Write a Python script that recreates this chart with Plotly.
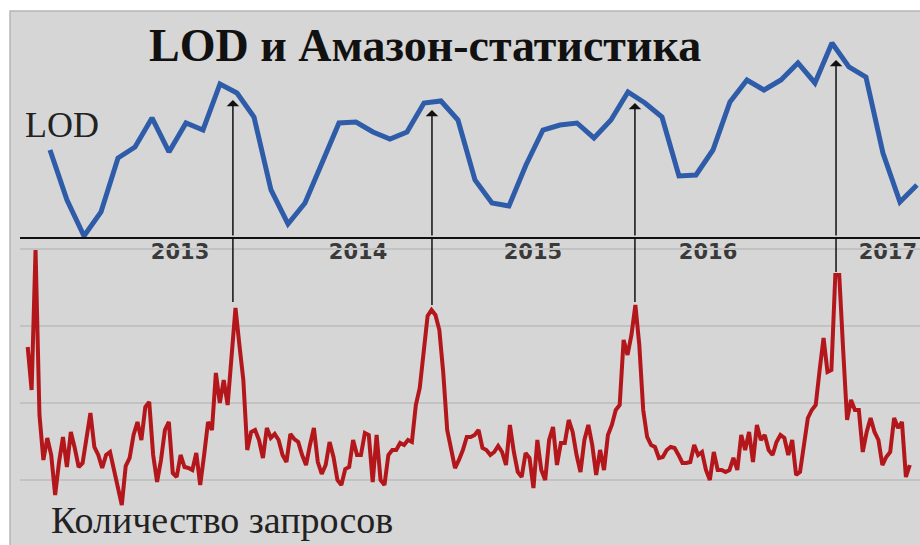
import plotly.graph_objects as go

# ---------------- data ----------------
# LOD (monthly, arbitrary units)
lod_values = [8.7, 3.7, 0.1, 2.5, 7.9, 9.0, 11.9, 8.5, 11.4, 10.7, 15.3, 14.4, 12.0,
              4.7, 1.3, 3.4, 7.4, 11.4, 11.5, 10.5, 9.8, 10.5, 13.4, 13.6, 11.7, 5.7,
              3.4, 3.1, 7.2, 10.7, 11.2, 11.4, 9.9, 11.7, 14.5, 13.4, 12.0, 6.1, 6.2,
              8.7, 13.5, 15.7, 14.7, 15.7, 17.4, 15.4, 19.4, 17.0, 16.0, 8.4, 3.5, 5.2]
lod_months = list(range(len(lod_values)))

# Amazon search volume (weekly, arbitrary units)
queries = [210, 167, 307, 142, 97, 119, 102, 62, 95, 120, 90, 125, 109, 90, 94, 122,
           144, 110, 102, 89, 102, 105, 87, 67, 52, 91, 99, 122, 135, 117, 150, 155,
           102, 75, 97, 127, 135, 84, 80, 102, 90, 89, 87, 104, 72, 102, 135, 127,
           184, 154, 177, 152, 207, 249, 212, 177, 107, 125, 127, 117, 99, 129, 119, 123,
           117, 102, 95, 123, 118, 115, 102, 92, 112, 129, 95, 83, 92, 115, 100, 77,
           72, 88, 90, 117, 102, 102, 124, 122, 75, 122, 77, 72, 102, 107, 107, 114,
           112, 117, 115, 152, 169, 205, 241, 247, 242, 227, 184, 127, 107, 89, 97, 107,
           120, 120, 122, 127, 109, 107, 102, 105, 111, 105, 92, 132, 105, 85, 80, 104,
           99, 69, 117, 87, 77, 117, 130, 92, 114, 114, 137, 125, 102, 85, 117, 132,
           112, 82, 107, 87, 122, 132, 147, 152, 217, 202, 222, 252, 212, 147, 120, 112,
           110, 99, 100, 107, 110, 109, 102, 94, 94, 95, 112, 102, 105, 87, 77, 105,
           87, 87, 85, 87, 99, 87, 122, 107, 125, 95, 132, 117, 122, 107, 102, 115,
           122, 119, 102, 117, 82, 85, 112, 139, 147, 152, 187, 219, 185, 187, 282, 282,
           207, 137, 157, 147, 147, 105, 125, 139, 125, 117, 92, 100, 105, 139, 129, 135,
           80, 92]
query_weeks = list(range(len(queries)))

# year labels (positions on the monthly axis)
year_labels = ["2013", "2014", "2015", "2016", "2017"]
year_pos = [7.65, 18.12, 28.41, 38.71, 49.29]

# arrows linking query peaks to LOD peaks
arrow_month = [10.76, 22.47, 34.41, 46.24]
arrow_lod = [13.7, 12.7, 13.4, 17.7]
arrow_query = [255, 252, 255, 285]

# ---------------- figure ----------------
fig = go.Figure()

fig.add_trace(go.Scatter(x=lod_months, y=lod_values, mode="lines",
                         line=dict(color="#2f5ca8", width=5),
                         xaxis="x", yaxis="y", showlegend=False))
fig.add_trace(go.Scatter(x=query_weeks, y=queries, mode="lines",
                         line=dict(color="#b3171b", width=4),
                         xaxis="x2", yaxis="y2", showlegend=False))

shapes = [dict(type="rect", xref="paper", yref="paper", x0=-0.0111, x1=1.02,
               y0=-0.02, y1=1.0019, fillcolor="#d6d6d6",
               line=dict(color="#b5b5b5", width=1.5), layer="below")]
annotations = []
for m, lv, qv in zip(arrow_month, arrow_lod, arrow_query):
    shapes.append(dict(type="line", xref="x", yref="y2", x0=m, x1=m, y0=qv, y1=320,
                       line=dict(color="#111111", width=1.5)))
    annotations.append(dict(xref="x", yref="y", axref="x", ayref="y",
                            x=m, y=lv, ax=m, ay=0, text="", showarrow=True,
                            arrowhead=1, arrowsize=1.4, arrowwidth=1.5,
                            arrowcolor="#111111", standoff=0))

annotations.append(dict(xref="paper", yref="paper", x=0.45, y=0.938,
                        xanchor="center", yanchor="middle",
                        text="<b>LOD и Амазон-статистика</b>", showarrow=False,
                        font=dict(family="Liberation Serif", size=46, color="#111111")))
annotations.append(dict(xref="paper", yref="paper", x=0.0467, y=0.788,
                        xanchor="center", yanchor="middle",
                        text="LOD", showarrow=False,
                        font=dict(family="Liberation Serif", size=36, color="#222222")))
annotations.append(dict(xref="paper", yref="paper", x=0.2244, y=0.047,
                        xanchor="center", yanchor="middle",
                        text="Количество запросов", showarrow=False,
                        font=dict(family="Liberation Serif", size=38, color="#222222")))

fig.update_layout(
    width=920, height=545,
    margin=dict(l=20, r=0, t=12, b=0),
    paper_bgcolor="white", plot_bgcolor="rgba(0,0,0,0)",
    xaxis=dict(domain=[0, 1], range=[-1.765, 51.18], anchor="y",
               showline=True, linecolor="#111111", linewidth=1.5,
               showgrid=False, zeroline=False, ticks="",
               tickvals=year_pos, ticktext=year_labels, ticklabelstandoff=-5,
               tickfont=dict(family="DejaVu Sans", size=21, color="#3a3a3a", weight="bold")),
    yaxis=dict(domain=[0.5779, 1], range=[0, 22.5], visible=False),
    xaxis2=dict(domain=[0, 1], range=[-1.964, 227.6], anchor="y2", visible=False),
    yaxis2=dict(domain=[0, 0.5779], range=[12, 320], showgrid=True,
                gridcolor="#c2c2c2", gridwidth=1.5, tick0=0, dtick=77,
                showticklabels=False, zeroline=False, showline=False, ticks=""),
    shapes=shapes, annotations=annotations,
)

fig.write_html("out.html", post_script="document.body.style.margin='0';",
               config={"displayModeBar": False})
